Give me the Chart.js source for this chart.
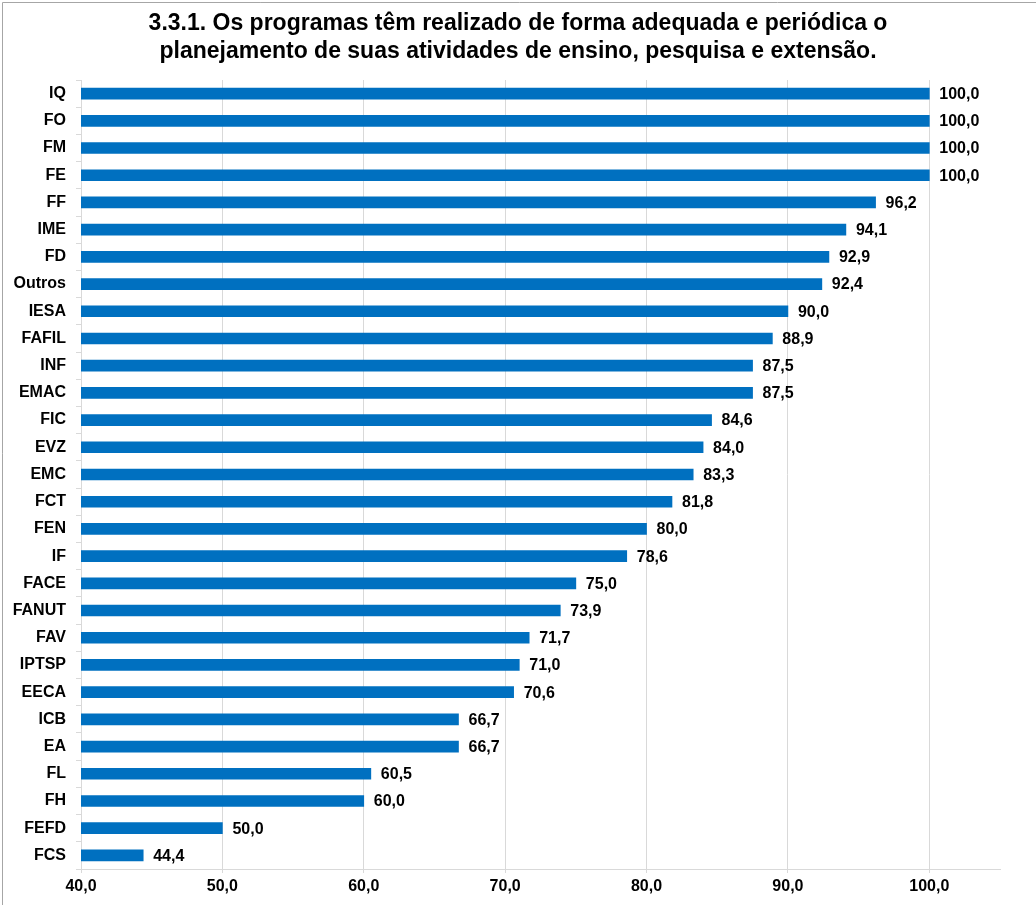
<!DOCTYPE html>
<html>
<head>
<meta charset="utf-8">
<script src="https://cdn.jsdelivr.net/npm/chart.js@4.4.1/dist/chart.umd.min.js"></script>
<style>
  html, body { margin: 0; padding: 0; background: #fff; }
  #wrap { width: 1036px; height: 905px; }
</style>
</head>
<body>
<div id="wrap"><canvas id="chart" width="1036" height="905"></canvas></div>
<script>
const titleLines = [
  "3.3.1. Os programas têm realizado de forma adequada e periódica o",
  "planejamento de suas atividades de ensino, pesquisa e extensão.",
];

const units = [
  "IQ", "FO", "FM", "FE", "FF", "IME", "FD", "Outros", "IESA", "FAFIL",
  "INF", "EMAC", "FIC", "EVZ", "EMC", "FCT", "FEN", "IF", "FACE", "FANUT",
  "FAV", "IPTSP", "EECA", "ICB", "EA", "FL", "FH", "FEFD", "FCS",
];

const values = [
  100.0, 100.0, 100.0, 100.0, 96.2, 94.1, 92.9, 92.4, 90.0, 88.9,
  87.5, 87.5, 84.6, 84.0, 83.3, 81.8, 80.0, 78.6, 75.0, 73.9,
  71.7, 71.0, 70.6, 66.7, 66.7, 60.5, 60.0, 50.0, 44.4,
];

const xTicks = [40, 50, 60, 70, 80, 90, 100];

const fmt = (v) => v.toFixed(1).replace(".", ",");
const fontFamily = "'Liberation Sans', Arial, sans-serif";

// value labels at the end of each bar
const barLabels = {
  id: "barLabels",
  afterDatasetsDraw(chart) {
    const ctx = chart.ctx;
    const meta = chart.getDatasetMeta(0);
    ctx.save();
    ctx.font = "bold 16px " + fontFamily;
    ctx.fillStyle = "#000";
    ctx.textAlign = "left";
    ctx.textBaseline = "middle";
    meta.data.forEach((bar, i) => {
      ctx.fillText(fmt(values[i]), bar.x + 10, bar.y + 1);
    });
    ctx.restore();
  },
};

// title centred on the whole canvas + thin frame on top and left
const frame = {
  id: "frame",
  beforeDraw(chart) {
    const ctx = chart.ctx;
    ctx.save();
    ctx.strokeStyle = "#a6a6a6";
    ctx.lineWidth = 1;
    ctx.beginPath();
    ctx.moveTo(2.5, chart.height);
    ctx.lineTo(2.5, 2.5);
    ctx.lineTo(chart.width, 2.5);
    ctx.stroke();
    ctx.restore();
  },
  afterDraw(chart) {
    const ctx = chart.ctx;
    ctx.save();
    ctx.font = "bold 23px " + fontFamily;
    ctx.fillStyle = "#000";
    ctx.textAlign = "center";
    ctx.textBaseline = "middle";
    titleLines.forEach((line, i) => {
      ctx.fillText(line, chart.width / 2, 24 + i * 28);
    });
    ctx.restore();
  },
};

new Chart(document.getElementById("chart"), {
  type: "bar",
  plugins: [barLabels, frame],
  data: {
    labels: units,
    datasets: [
      {
        data: values,
        backgroundColor: "#0070C0",
        barThickness: 11,
      },
    ],
  },
  options: {
    indexAxis: "y",
    responsive: false,
    animation: false,
    layout: { padding: { left: 0, right: 36, top: 80, bottom: 0 } },
    plugins: {
      legend: { display: false },
      tooltip: { enabled: false },
      title: { display: false },
    },
    scales: {
      x: {
        type: "linear",
        min: 40,
        max: 105,
        afterBuildTicks(axis) {
          axis.ticks = xTicks.map((v) => ({ value: v }));
        },
        afterFit(axis) {
          axis.height = 36;
        },
        ticks: {
          color: "#000",
          font: { family: fontFamily, size: 16, weight: "bold" },
          padding: 4,
          callback: (v) => fmt(v),
        },
        grid: {
          color: "#d9d9d9",
          tickLength: 4,
          drawTicks: true,
        },
        border: { color: "#d9d9d9", width: 1 },
      },
      y: {
        afterFit(axis) {
          axis.width = 81;
        },
        ticks: {
          color: "#000",
          font: { family: fontFamily, size: 16, weight: "bold" },
          padding: 10,
        },
        grid: {
          drawOnChartArea: false,
          color: "#d9d9d9",
          tickLength: 5,
          offset: true,
        },
        border: { color: "#d9d9d9", width: 1 },
      },
    },
  },
});
</script>
</body>
</html>
